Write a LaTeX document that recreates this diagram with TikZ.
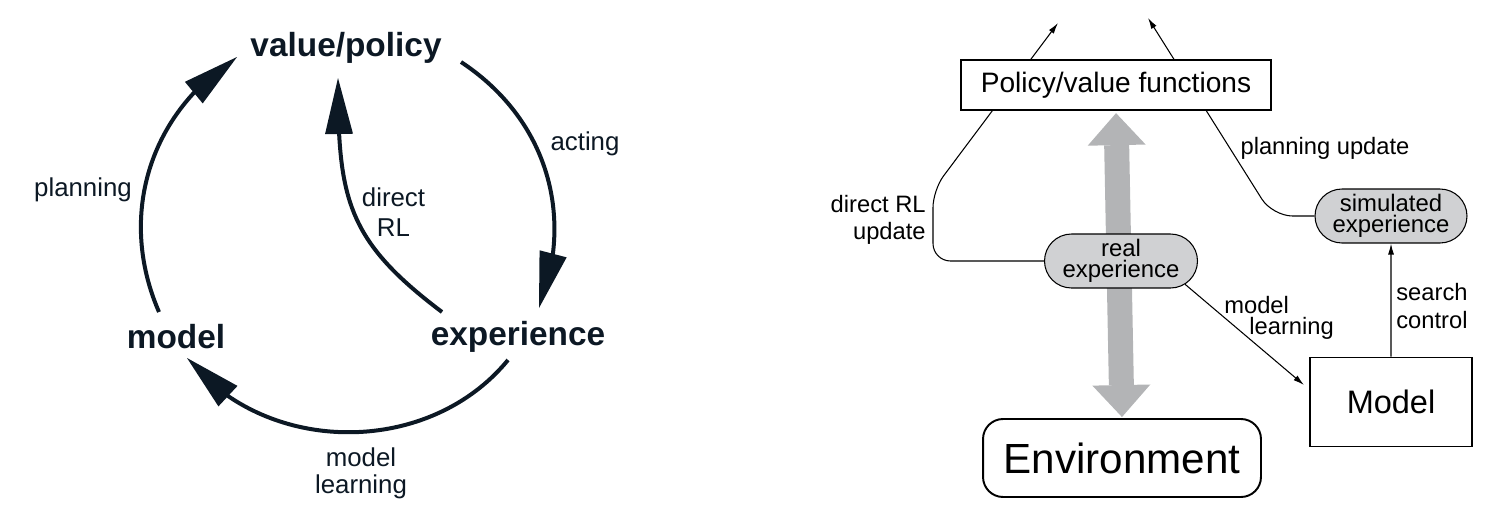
\documentclass[tikz,border=0pt]{standalone}
\usepackage{fontspec}
\setmainfont{Liberation Sans}
\usepackage{tikz}
\usetikzlibrary{arrows.meta,bending,shapes.misc,backgrounds}
\definecolor{ink}{RGB}{12,24,36}
\definecolor{ovalgray}{RGB}{208,209,211}
\definecolor{bandgray}{RGB}{179,180,182}

\begin{document}
\begin{tikzpicture}[x=0.02cm, y=0.02cm,
    big/.style={font=\fontsize{19}{22}\selectfont\bfseries, text=ink, inner sep=0pt},
    lbl/.style={font=\fontsize{14.7}{17}\selectfont, text=ink, align=center, inner sep=0pt},
    cyc/.style={line width=0.08cm, draw=ink, -{Triangle[length=1.12cm, width=0.56cm, line width=0pt, flex]}},
    txt/.style={font=\fontsize{13.5}{15.5}\selectfont, inner sep=0pt},
    oval/.style={rounded rectangle, draw, line width=0.6pt, fill=ovalgray, minimum width=3.06cm,
                 minimum height=1.08cm, align=center, inner sep=0pt, font=\fontsize{13.6}{12.2}\selectfont},
    box/.style={draw, line width=1.1pt, inner sep=0pt},
    thin/.style={line width=0.6pt, -{Latex[length=0.22cm, width=0.12cm]}},
    band/.style={line width=0.5cm, draw=bandgray,
                 {Triangle[length=0.64cm, width=1.16cm, line width=0pt]}-{Triangle[length=0.64cm, width=1.16cm, line width=0pt]}}
  ]
  \useasboundingbox (0,0) rectangle (1491,512);

  % cycle
  \node[big] (vp) at (346,464) {value/policy};
  \node[big] (mdl) at (176,175.5) {model};
  \node[big] (exp) at (518,175.5) {experience};

  \coordinate (vpL) at (237,455);
  \coordinate (vpR) at (461,450);
  \coordinate (vpB) at (338,434);
  \coordinate (mdlT) at (159,200);
  \coordinate (mdlR) at (187,154);
  \coordinate (expT) at (539,204);
  \coordinate (expL) at (442,200);
  \coordinate (expB) at (508,152);

  \draw[cyc] (vpR) to[bend left=39] (expT);
  \draw[cyc] (expB) to[bend left=51] (mdlR);
  \draw[cyc] (mdlT) to[bend left=40.5] (vpL);
  \draw[cyc] (expL) to[out=143, in=-90, looseness=1.2] (vpB);

  \node[lbl] (plan) at (83,322.5) {planning};
  \node[lbl] (act) at (585,368.5) {acting};
  \node[lbl] (drl) at (393.5,300) {direct\\RL};
  \node[lbl, font=\fontsize{14.7}{15.5}\selectfont] (mlrn) at (361,39) {model\\learning};

  % architecture
  \node[box, line width=1.3pt, fill=white, minimum width=6.2cm, minimum height=1cm,
        font=\fontsize{16}{19}\selectfont] (pol) at (1116,427) {Policy/value functions};
  \node[oval] (real) at (1121,251) {real\\experience};
  \node[oval, minimum width=3.04cm] (sim) at (1391,296) {simulated\\experience};
  \node[box, rounded corners=0.4cm, minimum width=5.56cm, minimum height=1.56cm,
        font=\fontsize{24}{28}\selectfont] (env) at (1122,54) {Environment};
  \node[box, minimum width=3.24cm, minimum height=1.78cm,
        font=\fontsize{18.5}{22}\selectfont] (mdlb) at (1391,110) {Model};

  \coordinate (polL) at (1058,489);
  \coordinate (polR) at (1148,494);
  \coordinate (dcorner) at (933,322);
  \coordinate (mlTip) at (1304,127);

  \begin{scope}[on background layer]
    \draw[band, shorten <=0.02cm, shorten >=0.04cm] (env.north) -- (pol.south);
    \draw[thin, rounded corners=0.35cm] (real.west) -| (dcorner) -- (polL);
    \draw[thin, rounded corners=0.4cm] (sim.west) -- ++(-42,0) -- (polR);
  \end{scope}
  \draw[thin] (real.-20) -- (mlTip);
  \draw[thin] (mdlb) -- (sim);

  \node[txt, align=right, anchor=east] (dlbl) at (926,292) {direct RL\\update};
  \node[txt] (plbl) at (1325,364) {planning update};
  \node[txt, align=left, anchor=west, font=\fontsize{13.5}{12.2}\selectfont] (mllbl) at (1224,194) {model\\\hspace*{0.5cm}learning};
  \node[txt, align=left, anchor=west] (sclbl) at (1396,206) {search\\control};
\end{tikzpicture}
\end{document}
